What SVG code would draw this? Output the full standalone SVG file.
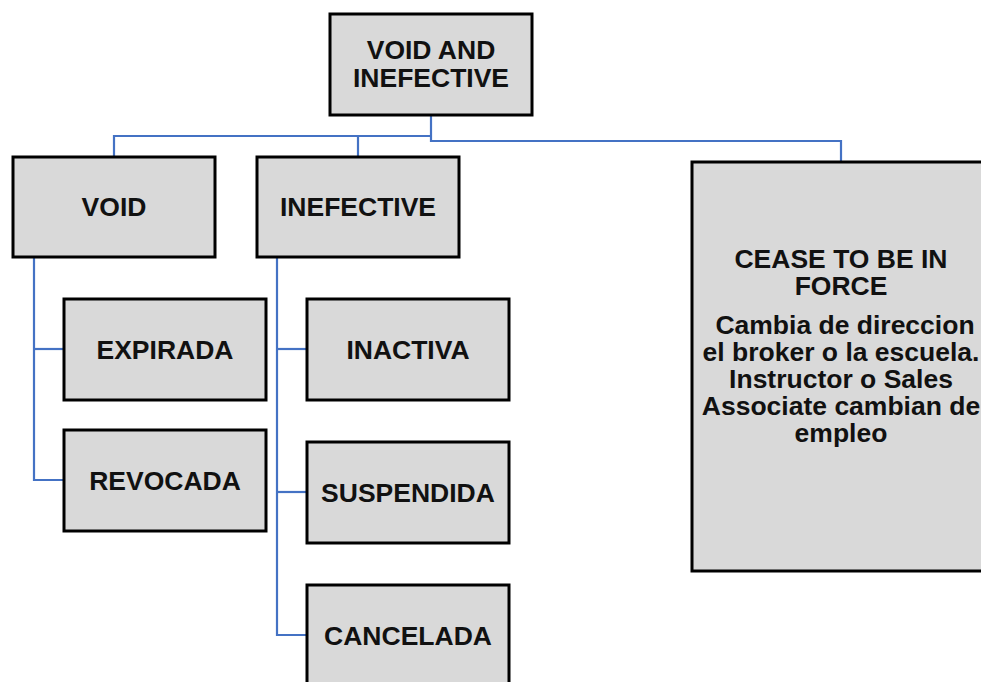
<svg xmlns="http://www.w3.org/2000/svg" width="981" height="682" viewBox="0 0 981 682">
<style>
.box{fill:#d9d9d9;stroke:#000;stroke-width:3}
.t{font-family:"Liberation Sans",Arial,sans-serif;font-weight:bold;font-size:26.5px;fill:#111;text-anchor:middle}
.c{fill:none;stroke:#4472c4;stroke-width:2.2}
</style>
<rect width="981" height="682" fill="#fff"/>
<g id="connectors">
<path class="c" d="M431,115 V141 H841 V162"/>
<path class="c" d="M431,136 H114 V157"/>
<path class="c" d="M358,136 V157"/>
<path class="c" d="M34,257 V480 H64"/>
<path class="c" d="M34,349 H64"/>
<path class="c" d="M277,257 V635 H307"/>
<path class="c" d="M277,349 H307"/>
<path class="c" d="M277,492 H307"/>
</g>
<g id="root">
<rect class="box" x="330" y="14" width="202" height="101"/>
<text class="t" x="431" y="59">VOID AND</text>
<text class="t" x="431" y="87">INEFECTIVE</text>
</g>
<g id="void">
<rect class="box" x="13" y="157" width="202" height="100"/>
<text class="t" x="114" y="216">VOID</text>
</g>
<g id="inefective">
<rect class="box" x="257" y="157" width="202" height="100"/>
<text class="t" x="358" y="216">INEFECTIVE</text>
</g>
<g id="cease">
<rect class="box" x="692" y="162" width="300" height="409"/>
<text class="t" x="841" y="268">CEASE TO BE IN</text>
<text class="t" x="841" y="295">FORCE</text>
<text class="t" x="845" y="334">Cambia de direccion</text>
<text class="t" x="841" y="361">el broker o la escuela.</text>
<text class="t" x="841" y="388">Instructor o Sales</text>
<text class="t" x="841" y="415">Associate cambian de</text>
<text class="t" x="841" y="442">empleo</text>
</g>
<g id="expirada">
<rect class="box" x="64" y="299" width="202" height="101"/>
<text class="t" x="165" y="359">EXPIRADA</text>
</g>
<g id="revocada">
<rect class="box" x="64" y="430" width="202" height="101"/>
<text class="t" x="165" y="490">REVOCADA</text>
</g>
<g id="inactiva">
<rect class="box" x="307" y="299" width="202" height="101"/>
<text class="t" x="408" y="359">INACTIVA</text>
</g>
<g id="suspendida">
<rect class="box" x="307" y="442" width="202" height="101"/>
<text class="t" x="408" y="502">SUSPENDIDA</text>
</g>
<g id="cancelada">
<rect class="box" x="307" y="585" width="202" height="101"/>
<text class="t" x="408" y="645">CANCELADA</text>
</g>
</svg>
